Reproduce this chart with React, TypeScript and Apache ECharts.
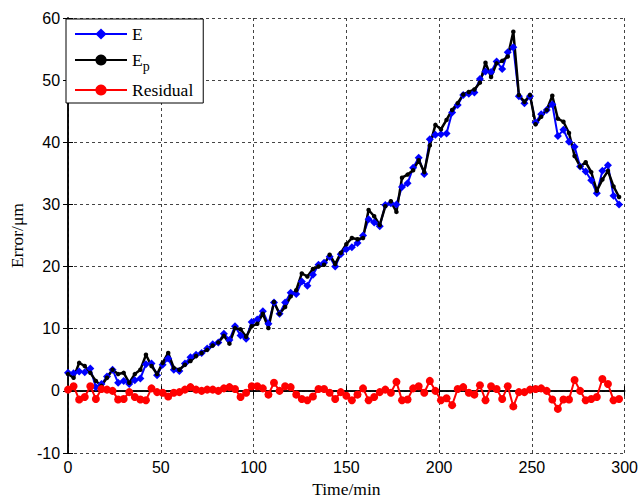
import React, { useEffect, useRef } from "react";
import * as echarts from "echarts";

const times: number[] = Array.from({ length: 100 }, (_, i) => i * 3);

const E: number[] = [
  2.9, 2.85, 3.1, 3.0, 3.6, 0.6, 1.1, 2.3, 3.4, 1.3,
  1.6, 1.1, 1.7, 2.0, 4.3, 4.4, 2.5, 4.2, 5.2, 3.4,
  3.2, 4.4, 5.4, 5.8, 6.1, 6.8, 7.5, 7.8, 9.2, 8.2,
  10.4, 8.9, 8.4, 11.1, 11.5, 12.8, 10.8, 14.2, 12.4, 14.2,
  15.8, 15.6, 17.6, 16.9, 18.7, 20.3, 20.6, 21.6, 20.0, 22.0,
  22.8, 23.1, 23.8, 25.0, 27.6, 27.1, 26.5, 29.9, 30.2, 30.0,
  32.8, 33.4, 35.9, 37.5, 34.9, 40.5, 41.2, 41.3, 41.4, 44.8,
  46.0, 47.6, 47.8, 48.0, 50.2, 51.4, 51.3, 53.0, 51.8, 54.5,
  55.3, 47.4, 46.3, 47.4, 43.2, 44.5, 45.2, 46.1, 41.0, 42.0,
  40.1, 39.3, 36.1, 35.3, 33.9, 31.8, 35.4, 36.3, 31.4, 30.0,
];

const Ep: number[] = [
  2.7, 2.1, 4.5, 4.0, 2.9, 1.6, 0.8, 2.1, 3.4, 2.7,
  2.9, 1.3, 2.7, 3.4, 5.8, 4.0, 2.7, 4.5, 6.1, 3.7,
  3.4, 4.2, 4.8, 5.6, 6.1, 6.6, 7.3, 7.8, 8.85, 7.6,
  10.1, 9.9, 8.7, 10.4, 10.8, 12.4, 10.1, 14.3, 12.4, 13.5,
  15.2, 16.2, 18.9, 18.4, 19.6, 20.0, 20.3, 21.9, 20.4, 22.2,
  23.6, 24.6, 24.4, 24.6, 29.1, 28.1, 26.7, 29.7, 30.5, 28.8,
  34.3, 34.8, 35.5, 37.1, 35.2, 39.5, 42.8, 42.1, 43.6, 45.2,
  46.3, 47.7, 48.1, 48.5, 49.6, 52.8, 50.5, 52.7, 53.1, 53.8,
  57.8, 47.6, 46.5, 47.6, 42.9, 44.1, 45.2, 47.5, 43.8, 43.3,
  41.5, 37.8, 36.1, 36.8, 35.2, 32.2, 34.0, 35.4, 32.9, 31.2,
];

const Residual: number[] = [
  0.2, 0.75, -1.4, -1.0, 0.75, -1.3, 0.3, 0.2, 0, -1.4,
  -1.3, -0.2, -1.0, -1.4, -1.5, 0.4, -0.2, -0.3, -0.9, -0.3,
  -0.2, 0.2, 0.6, 0.2, 0, 0.2, 0.2, 0, 0.4, 0.6,
  0.3, -1.0, -0.3, 0.75, 0.75, 0.4, -0.6, 1.3, 0, 0.75,
  0.6, -0.6, -1.3, -1.5, -0.9, 0.3, 0.3, -0.3, -1.3, -0.2,
  -0.8, -1.5, -0.6, 0.4, -1.5, -1.0, -0.2, 0.2, -0.3, 1.45,
  -1.5, -1.4, 0.4, 0.75, -0.3, 1.6, 0, -1.5, -1.2, -2.3,
  0.3, 0.6, -0.3, -0.6, 0.9, -1.5, 0.75, 0.3, -1.3, 0.75,
  -2.5, -0.2, -0.2, 0.2, 0.3, 0.4, 0, -1.4, -2.9, -1.4,
  -1.4, 1.75, 0, -1.5, -1.3, -1.0, 1.9, 1.1, -1.5, -1.3,
];

const xTicks = { min: 0, max: 300, interval: 50 };
const yTicks = { min: -10, max: 60, interval: 10 };

const pair = (ys: number[]) => times.map((t, i) => [t, ys[i]]);

export default function App() {
  const ref = useRef<HTMLDivElement>(null);
  useEffect(() => {
    if (!ref.current) return;
    const chart = echarts.init(ref.current, null, { renderer: "svg" });
    const tickFont = { fontFamily: "Liberation Sans", fontSize: 16, color: "#000" };
    const splitLine = { show: true, lineStyle: { color: "#444", type: [3, 3], width: 1 } };
    const axisLine = { show: true, lineStyle: { color: "#000", width: 1.5 } };
    chart.setOption({
      animation: false,
      backgroundColor: "#fff",
      grid: { left: 65, right: 14, top: 18, bottom: 45, show: false },
      legend: {
        orient: "vertical",
        left: 66,
        top: 19,
        backgroundColor: "#fff",
        borderColor: "#000",
        borderWidth: 1,
        padding: [6, 10, 4, 8],
        itemGap: 8,
        itemWidth: 52,
        itemHeight: 14,
        data: ["E", "Ep", "Residual"],
        formatter: (name: string) => (name === "Ep" ? "{m|E}{s|p}" : "{m|" + name + "}"),
        textStyle: {
          fontFamily: "Liberation Serif",
          fontSize: 17.5,
          color: "#000",
          rich: {
            m: { fontFamily: "Liberation Serif", fontSize: 17.5, color: "#000" },
            s: { fontFamily: "Liberation Serif", fontSize: 14, color: "#000", padding: [12, 0, 0, 0] },
          },
        },
      },
      xAxis: [
        {
          type: "value",
          ...xTicks,
          position: "bottom",
          axisLine,
          axisTick: { show: true, inside: true, length: 5, lineStyle: { color: "#000" } },
          axisLabel: { ...tickFont, margin: 6 },
          splitLine,
          name: "Time/min",
          nameLocation: "middle",
          nameGap: 27,
          nameTextStyle: { fontFamily: "Liberation Serif", fontSize: 17.5, color: "#000" },
        },
        {
          type: "value",
          ...xTicks,
          position: "top",
          axisLine,
          axisTick: { show: true, inside: true, length: 5, lineStyle: { color: "#000" } },
          axisLabel: { show: false },
          splitLine: { show: false },
        },
      ],
      yAxis: [
        {
          type: "value",
          ...yTicks,
          position: "left",
          axisLine,
          axisTick: { show: true, inside: true, length: 5, lineStyle: { color: "#000" } },
          axisLabel: { ...tickFont, margin: 8 },
          splitLine,
          name: "Error/μm",
          nameLocation: "middle",
          nameGap: 40,
          nameTextStyle: { fontFamily: "Liberation Serif", fontSize: 17.5, color: "#000" },
        },
        {
          type: "value",
          ...yTicks,
          position: "right",
          axisLine,
          axisTick: { show: true, inside: true, length: 5, lineStyle: { color: "#000" } },
          axisLabel: { show: false },
          splitLine: { show: false },
        },
      ],
      series: [
        {
          name: "E",
          type: "line",
          data: pair(E),
          symbol: "diamond",
          symbolSize: 8,
          itemStyle: { color: "#0000ff" },
          lineStyle: { color: "#0000ff", width: 2 },
        },
        {
          name: "Ep",
          type: "line",
          data: pair(Ep),
          symbol: "circle",
          symbolSize: 4.5,
          itemStyle: { color: "#000" },
          lineStyle: { color: "#000", width: 2.5 },
        },
        {
          name: "Residual",
          type: "line",
          data: pair(Residual),
          symbol: "circle",
          symbolSize: 8,
          itemStyle: { color: "#ff0000" },
          lineStyle: { color: "#ff0000", width: 2 },
        },
      ],
    });
    return () => chart.dispose();
  }, []);
  return <div ref={ref} style={{ width: 641, height: 503, position: "absolute", left: 0, top: 0 }} />;
}
